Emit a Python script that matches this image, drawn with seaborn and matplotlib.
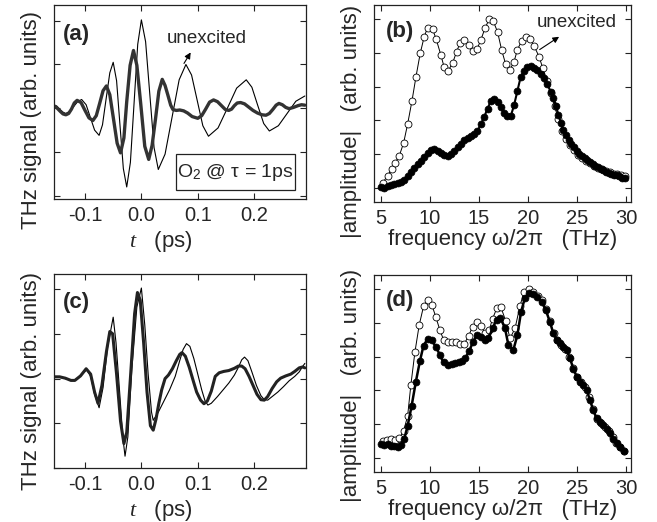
import numpy as np
import pandas as pd
import matplotlib
matplotlib.use("Agg")
import matplotlib.pyplot as plt
from matplotlib.patches import Rectangle
import seaborn as sns

# ---------------- data ----------------
# (a) time traces, tau = 1 ps
t_a_un = [-0.155,-0.150,-0.145,-0.139,-0.134,-0.127,-0.120,-0.113,-0.106,-0.098,
          -0.0905,-0.083,-0.075,-0.069,-0.0625,-0.056,-0.050,-0.044,-0.038,-0.032,
          -0.026,-0.0195,-0.013,-0.0065,0.000,0.0075,0.015,0.0225,0.030,0.042,
          0.0545,0.067,0.079,0.089,0.099,0.109,0.119,0.136,0.1525,0.169,
          0.186,0.196,0.2065,0.217,0.227,0.243,0.2585,0.274,0.290]
v_a_un = [0.08,0.05,-0.02,-0.09,-0.12,-0.07,0.04,0.15,0.20,0.08,
          -0.21,-0.50,-0.62,-0.38,0.22,0.81,1.05,0.63,-0.38,-1.38,
          -1.80,-1.24,0.11,1.46,2.02,1.52,0.31,-0.90,-1.40,-1.05,
          -0.20,0.65,1.00,0.76,0.18,-0.40,-0.64,-0.45,0.00,0.46,
          0.65,0.48,0.06,-0.35,-0.52,-0.40,-0.12,0.16,0.28]
t_a_ex = [-0.155,-0.150,-0.144,-0.139,-0.134,-0.129,-0.124,-0.119,-0.114,-0.107,
          -0.100,-0.093,-0.086,-0.080,-0.074,-0.068,-0.062,-0.056,-0.050,-0.043,
          -0.037,-0.031,-0.026,-0.020,-0.014,-0.008,-0.001,0.006,0.013,0.019,
          0.025,0.031,0.037,0.042,0.047,0.052,0.056,0.062,0.068,0.075,
          0.082,0.090,0.100,0.107,0.114,0.121,0.128,0.135,0.142,0.149,
          0.155,0.160,0.165,0.170,0.176,0.183,0.190,0.198,0.206,0.214,
          0.221,0.227,0.233,0.239,0.244,0.250,0.256,0.262,0.270,0.278,
          0.284,0.290]
v_a_ex = [0.05,0.01,-0.07,-0.13,-0.15,-0.12,-0.02,0.12,0.18,0.13,
          -0.05,-0.22,-0.28,-0.17,0.11,0.40,0.51,0.31,-0.20,-0.80,
          -1.02,-0.68,0.15,0.98,1.32,0.98,0.08,-0.87,-1.17,-0.85,
          -0.25,0.39,0.66,0.52,0.30,0.07,-0.03,-0.05,-0.04,-0.06,
          -0.11,-0.19,-0.23,-0.17,-0.02,0.14,0.19,0.15,0.06,-0.03,
          -0.05,-0.02,0.06,0.12,0.13,0.10,0.03,-0.05,-0.11,-0.15,
          -0.16,-0.12,-0.03,0.07,0.11,0.08,0.02,-0.01,0.02,0.06,
          0.08,0.07]

# (b) spectra
f_b_un = [5.2,5.71,6.12,6.49,6.9,7.34,7.75,8.19,8.6,9.03,
          9.44,9.78,10.29,10.66,11.14,11.47,11.88,12.32,12.73,13.1,
          13.51,13.95,14.36,14.8,15.2,15.64,16.05,16.46,16.9,17.32,
          17.73,18.17,18.58,18.92,19.36,19.76,20.2,20.64,21.12,21.49,
          21.9,22.3,22.7,23.1,23.5,23.9,24.3,24.7,25.1,25.5,
          25.9,26.3,26.7,27.1,27.5,27.9,28.3,28.7,29.1,29.5,29.9]
a_b_un = [0.15,0.36,0.57,0.75,0.95,1.33,1.89,2.57,3.29,3.98,
          4.48,4.74,4.70,4.40,3.93,3.57,3.47,3.69,4.03,4.30,
          4.37,4.23,4.05,4.10,4.38,4.74,4.99,4.94,4.62,4.08,
          3.66,3.50,3.74,4.09,4.36,4.48,4.41,4.19,3.89,3.56,
          3.18,2.80,2.42,2.03,1.70,1.45,1.27,1.12,0.99,0.89,
          0.81,0.73,0.66,0.60,0.55,0.50,0.46,0.42,0.40,0.38,0.35]
f_b_ex = [5.03,5.37,5.71,6.05,6.39,6.73,7.07,7.41,7.75,8.08,
          8.42,8.76,9.1,9.44,9.78,10.12,10.46,10.8,11.14,11.47,
          11.81,12.15,12.49,12.83,13.17,13.51,13.85,14.19,14.53,14.86,
          15.2,15.54,15.88,16.22,16.56,16.9,17.24,17.56,17.9,18.24,
          18.58,18.92,19.25,19.59,19.93,20.27,20.61,20.95,21.29,21.63,
          21.97,22.31,22.58,22.85,23.08,23.36,23.59,23.86,24.14,24.41,
          24.68,24.95,25.22,25.49,25.76,26.03,26.31,26.58,26.85,27.12,
          27.39,27.66,27.93,28.2,28.47,28.75,29.02,29.29,29.56,29.83]
a_b_ex = [0.03,0.0,0.05,0.10,0.12,0.14,0.18,0.25,0.35,0.47,
          0.60,0.71,0.81,0.93,1.04,1.11,1.14,1.10,1.04,0.98,
          0.96,1.01,1.10,1.20,1.30,1.41,1.48,1.54,1.60,1.68,
          1.89,2.10,2.35,2.57,2.63,2.55,2.40,2.22,2.12,2.12,
          2.45,2.87,3.28,3.46,3.58,3.61,3.56,3.48,3.36,3.24,
          3.07,2.85,2.67,2.44,2.17,1.92,1.73,1.56,1.43,1.30,
          1.20,1.10,1.02,0.95,0.88,0.82,0.76,0.70,0.65,0.61,
          0.56,0.52,0.48,0.44,0.41,0.39,0.37,0.34,0.31,0.29]

# (c) time traces
t_c_un = [-0.155,-0.145,-0.135,-0.125,-0.118,-0.108,-0.097,-0.090,-0.083,-0.075,
          -0.068,-0.060,-0.050,-0.045,-0.038,-0.033,-0.029,-0.024,-0.017,-0.008,
          0.000,0.006,0.012,0.018,0.021,0.030,0.040,0.050,0.060,0.068,
          0.074,0.080,0.086,0.093,0.100,0.107,0.113,0.118,0.124,0.135,
          0.145,0.155,0.165,0.172,0.178,0.183,0.189,0.196,0.204,0.212,
          0.218,0.224,0.232,0.242,0.252,0.262,0.272,0.280,0.286,0.290]
v_c_un = [0.03,0.03,0.00,-0.04,-0.03,0.06,0.20,0.05,-0.35,-0.65,
          -0.20,0.70,1.37,0.80,-0.40,-1.30,-1.73,-1.30,0.20,1.60,
          2.02,1.20,0.10,-0.75,-0.93,-0.75,-0.50,-0.25,0.05,0.40,
          0.65,0.78,0.72,0.45,0.10,-0.25,-0.50,-0.59,-0.55,-0.40,
          -0.25,-0.10,0.08,0.25,0.42,0.48,0.40,0.15,-0.15,-0.38,
          -0.47,-0.48,-0.40,-0.30,-0.18,-0.05,0.05,0.15,0.27,0.34]
t_c_ex = [-0.155,-0.145,-0.135,-0.125,-0.118,-0.108,-0.098,-0.090,-0.083,-0.077,
          -0.070,-0.062,-0.056,-0.051,-0.044,-0.037,-0.031,-0.026,-0.019,-0.012,
          -0.007,-0.002,0.004,0.010,0.016,0.021,0.026,0.031,0.036,0.042,
          0.048,0.055,0.062,0.068,0.072,0.078,0.085,0.092,0.098,0.105,
          0.111,0.117,0.124,0.131,0.138,0.146,0.155,0.165,0.172,0.178,
          0.184,0.191,0.198,0.205,0.212,0.218,0.224,0.232,0.240,0.247,
          0.256,0.265,0.272,0.280,0.286,0.290]
v_c_ex = [0.04,0.04,0.01,-0.04,-0.04,0.06,0.22,0.10,-0.30,-0.55,
          -0.15,0.60,1.05,1.00,0.10,-0.95,-1.45,-1.20,0.10,1.45,
          1.92,1.75,0.80,-0.30,-1.05,-1.15,-0.90,-0.55,-0.25,0.00,
          0.08,0.22,0.40,0.54,0.58,0.50,0.25,-0.05,-0.30,-0.48,
          -0.56,-0.50,-0.28,0.05,0.13,0.16,0.18,0.23,0.28,0.28,
          0.22,0.05,-0.15,-0.35,-0.47,-0.48,-0.40,-0.22,-0.07,0.01,
          0.06,0.10,0.16,0.24,0.26,0.24]

# (d) spectra
f_d_un = [5.2,5.64,6.05,6.49,6.9,7.34,7.75,8.08,8.49,8.93,
          9.37,9.78,10.22,10.63,11.03,11.41,11.81,12.22,12.66,13.1,
          13.51,13.95,14.36,14.76,15.2,15.64,16.05,16.39,16.83,17.24,
          17.73,18.17,18.68,19.19,19.59,20.1,20.54,21.05,21.46,21.8,
          22.2,22.6,23.0,23.4,23.8,24.2,24.6,25.0,25.4,25.8,
          26.2,26.6,27.0,27.4,27.8,28.2,28.6,29.0,29.4,29.8]
a_d_un = [0.50,0.53,0.55,0.54,0.58,0.80,1.24,2.16,3.13,3.94,
          4.49,4.68,4.53,4.17,3.79,3.50,3.45,3.43,3.43,3.38,
          3.38,3.61,3.89,4.04,3.92,3.69,3.79,4.12,4.44,4.47,
          4.06,3.54,3.84,4.51,4.91,5.01,4.93,4.81,4.68,4.42,
          4.07,3.70,3.48,3.36,3.24,3.00,2.67,2.39,2.24,2.10,
          1.82,1.46,1.16,1.05,0.93,0.81,0.61,0.45,0.32,0.21]
f_d_ex = [5.03,5.37,5.71,6.05,6.39,6.73,7.07,7.41,7.75,8.15,
          8.59,9.0,9.37,9.78,10.19,10.63,11.03,11.41,11.81,12.22,
          12.59,12.93,13.27,13.61,14.02,14.42,14.8,15.2,15.61,15.98,
          16.39,16.8,17.17,17.66,18.0,18.51,18.92,19.29,19.69,20.14,
          20.54,20.95,21.39,21.8,22.24,22.58,22.92,23.25,23.59,23.93,
          24.27,24.61,24.95,25.29,25.63,25.97,26.31,26.64,26.98,27.32,
          27.66,28.0,28.34,28.68,29.02,29.36,29.76]
a_d_ex = [0.40,0.38,0.40,0.36,0.35,0.32,0.38,0.57,0.95,1.53,
          2.26,2.87,3.33,3.52,3.48,3.30,3.05,2.83,2.75,2.77,
          2.80,2.83,2.87,2.95,3.17,3.45,3.64,3.57,3.48,3.54,
          3.84,4.09,4.16,3.84,3.35,3.20,3.64,4.32,4.75,4.88,
          4.85,4.78,4.63,4.39,4.02,3.69,3.50,3.40,3.30,3.20,
          2.95,2.65,2.41,2.26,2.16,2.01,1.71,1.42,1.17,1.07,
          0.97,0.87,0.75,0.57,0.43,0.33,0.21]

time_ticks = [-0.1, 0.0, 0.1, 0.2]
time_ticklabels = ["-0.1", "0.0", "0.1", "0.2"]
freq_ticks = [5, 10, 15, 20, 25, 30]
freq_ticklabels = ["5", "10", "15", "20", "25", "30"]

# ---------------- style ----------------
sns.set_style("ticks")
plt.rcParams["font.family"] = ["Liberation Sans", "DejaVu Sans"]
plt.rcParams["axes.unicode_minus"] = False
plt.rcParams["mathtext.fontset"] = "custom"
plt.rcParams["mathtext.rm"] = "Liberation Sans"
plt.rcParams["mathtext.it"] = "Liberation Serif:italic"
plt.rcParams["axes.edgecolor"] = "#222222"
plt.rcParams["axes.linewidth"] = 0.9

fig = plt.figure(figsize=(6.57, 5.22), dpi=100)
W, H = 657.0, 522.0
def add_ax(x0, y0, x1, y1):
    return fig.add_axes([x0 / W, 1 - y1 / H, (x1 - x0) / W, (y1 - y0) / H])

ax_a = add_ax(54, 5, 306, 199)
ax_b = add_ax(374, 5, 631, 202)
ax_c = add_ax(54, 274, 306, 468.3)
ax_d = add_ax(374, 275, 631, 472)

TICK_FS = 14.5
LAB_FS = 16
MS = 5.0

def style_axis(ax):
    ax.tick_params(direction="in", top=True, right=True, length=4.5, width=0.8,
                   color="#222222", labelsize=TICK_FS, labelleft=False, pad=5)
    for s in ax.spines.values():
        s.set_visible(True)

def time_axis(ax, ylim, ylab_y):
    ax.set_xlim(-0.155, 0.292)
    ax.set_ylim(*ylim)
    ax.set_xticks(time_ticks)
    ax.set_xticklabels(time_ticklabels)
    ax.set_yticks([-2, -1, 0, 1, 2])
    style_axis(ax)
    ax.set_xlabel(r"$\mathit{t}$   (ps)", fontsize=LAB_FS)
    ax.xaxis.set_label_coords(0.425, -0.155)
    ax.set_ylabel("")
    ax.text(-0.091, ylab_y, "THz signal (arb. units)", rotation=90, fontsize=LAB_FS,
            ha="center", va="center", transform=ax.transAxes)

def freq_axis(ax, ylim, ylab_y):
    ax.set_xlim(4.33, 30.48)
    ax.set_ylim(*ylim)
    ax.set_xticks(freq_ticks)
    ax.set_xticklabels(freq_ticklabels)
    ax.set_yticks([0, 1, 2, 3, 4, 5])
    style_axis(ax)
    ax.set_xlabel("frequency ω/2π   (THz)", fontsize=LAB_FS, labelpad=1)
    ax.set_ylabel("")
    ax.text(-0.089, ylab_y, "|amplitude|   (arb. units)", rotation=90, fontsize=LAB_FS,
            ha="center", va="center", transform=ax.transAxes)

# ---------------- panel (a) ----------------
sns.lineplot(x=t_a_un, y=v_a_un, ax=ax_a, color="black", linewidth=0.8,
             sort=False, estimator=None)
sns.lineplot(x=t_a_ex, y=v_a_ex, ax=ax_a, color="#333333", linewidth=2.4,
             sort=False, estimator=None)
time_axis(ax_a, (-2.075, 2.36), 0.407)
ax_a.text(0.036, 0.848, "(a)", fontsize=16, fontweight="bold", ha="left", va="center",
          transform=ax_a.transAxes)
ax_a.text(0.045, 1.59, "unexcited", fontsize=13.5, ha="left", va="center")
ax_a.annotate("", xy=(0.090, 1.33), xytext=(0.073, 0.97),
              arrowprops=dict(arrowstyle="-|>", color="black", lw=0.8, mutation_scale=9))
ax_a.add_patch(Rectangle((0.484, 0.046), 0.472, 0.186, transform=ax_a.transAxes,
                         facecolor="white", edgecolor="#222222", lw=0.9, zorder=5))
ax_a.text(0.72, 0.139, r"O$_\mathrm{2}$ @ τ = 1ps", fontsize=14, ha="center", va="center",
          transform=ax_a.transAxes, zorder=6)

# ---------------- panel (b) ----------------
sns.lineplot(x=f_b_un, y=a_b_un, ax=ax_b, color="black", linewidth=0.7, marker="o",
             markersize=MS, markerfacecolor="white", markeredgecolor="black",
             markeredgewidth=0.6, sort=False, estimator=None)
sns.lineplot(x=f_b_ex, y=a_b_ex, ax=ax_b, color="black", linewidth=1.5, marker="o",
             markersize=MS, markerfacecolor="black", markeredgecolor="black",
             markeredgewidth=0.5, sort=False, estimator=None)
freq_axis(ax_b, (-0.415, 5.415), 0.409)
ax_b.text(0.047, 0.866, "(b)", fontsize=16, fontweight="bold", ha="left", va="center",
          transform=ax_b.transAxes)
ax_b.text(20.9, 4.9, "unexcited", fontsize=13.5, ha="left", va="center")
ax_b.annotate("", xy=(23.4, 4.52), xytext=(20.95, 4.05),
              arrowprops=dict(arrowstyle="-|>", color="black", lw=0.8, mutation_scale=9))

# ---------------- panel (c) ----------------
sns.lineplot(x=t_c_un, y=v_c_un, ax=ax_c, color="black", linewidth=0.8,
             sort=False, estimator=None)
sns.lineplot(x=t_c_ex, y=v_c_ex, ax=ax_c, color="#222222", linewidth=2.2,
             sort=False, estimator=None)
time_axis(ax_c, (-1.978, 2.333), 0.45)
ax_c.text(0.036, 0.855, "(c)", fontsize=16, fontweight="bold", ha="left", va="center",
          transform=ax_c.transAxes)

# ---------------- panel (d) ----------------
sns.lineplot(x=f_d_un, y=a_d_un, ax=ax_d, color="black", linewidth=0.7, marker="o",
             markersize=MS, markerfacecolor="white", markeredgecolor="black",
             markeredgewidth=0.6, sort=False, estimator=None)
sns.lineplot(x=f_d_ex, y=a_d_ex, ax=ax_d, color="black", linewidth=1.8, marker="o",
             markersize=MS, markerfacecolor="black", markeredgecolor="black",
             markeredgewidth=0.5, sort=False, estimator=None)
freq_axis(ax_d, (-0.415, 5.42), 0.437)
ax_d.text(0.047, 0.873, "(d)", fontsize=16, fontweight="bold", ha="left", va="center",
          transform=ax_d.transAxes)

fig.savefig("out.png", dpi=100, facecolor="white")
